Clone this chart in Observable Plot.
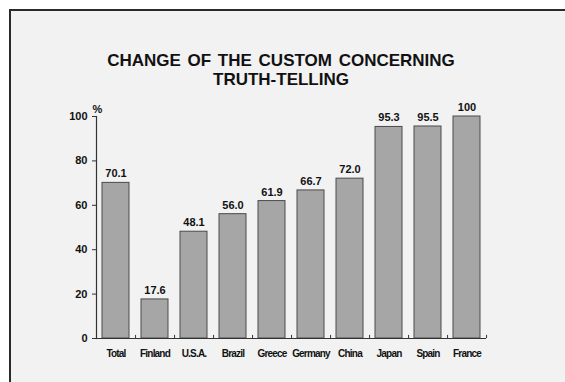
<!DOCTYPE html>
<html>
<head>
<meta charset="utf-8">
<script src="https://cdn.jsdelivr.net/npm/d3@7"></script>
<script src="https://cdn.jsdelivr.net/npm/@observablehq/plot@0.6"></script>
<style>
  html, body { margin: 0; padding: 0; background: #fff; }
  #page { position: relative; width: 565px; height: 382px; overflow: hidden; }
  #sheet {
    position: absolute; left: 9px; top: 9px; right: -4px; bottom: -4px;
    background: #f2f2f2;
    border-left: 2px solid #2a2a2a; border-top: 2px solid #2a2a2a;
  }
  #title {
    position: absolute; left: 0; width: 562px; top: 51px;
    text-align: center; font-family: "Liberation Sans", Arial, sans-serif;
    font-weight: bold; font-size: 17px; line-height: 19px; color: #111;
    word-spacing: 2px;
  }
  #chart { position: absolute; left: 0; top: 0; }
  .country-labels text { letter-spacing: -0.8px; }
</style>
</head>
<body>
<div id="page">
  <div id="sheet"></div>
  <div id="title">CHANGE OF THE CUSTOM CONCERNING<br>TRUTH-TELLING</div>
  <div id="chart"></div>
</div>
<script>
// Share of respondents (%) per country
const countries = ["Total", "Finland", "U.S.A.", "Brazil", "Greece", "Germany", "China", "Japan", "Spain", "France"];
const shares = [70.1, 17.6, 48.1, 56.0, 61.9, 66.7, 72.0, 95.3, 95.5, 100];
const yTicks = [0, 20, 40, 60, 80, 100];

const rows = countries.map((c, i) => ({country: c, share: shares[i]}));
const fmt = v => v === 100 ? "100" : v.toFixed(1);

const W = 565, H = 382;
const mL = 96, mR = 80, mT = 116, mB = 44;
const padIn = 0.31, padOut = 0.125;
const step = (W - mL - mR) / (countries.length - padIn + 2 * padOut);

const chart = Plot.plot({
  width: W,
  height: H,
  marginLeft: mL,
  marginRight: mR,
  marginTop: mT,
  marginBottom: mB,
  style: {background: "transparent", fontFamily: "'Liberation Sans', Arial, sans-serif", color: "#111"},
  x: {type: "band", domain: countries, paddingInner: padIn, paddingOuter: padOut},
  y: {domain: [0, 100]},
  marks: [
    Plot.barY(rows, {x: "country", y: "share", fill: "#a6a6a6", stroke: "#4a4a4a", strokeWidth: 1}),
    // small separator ticks along the baseline
    Plot.ruleX(rows, {x: "country", dx: step / 2, y1: 0, y2: 1.4, stroke: "#333", strokeWidth: 1}),
    Plot.frame({anchor: "left", stroke: "#333", strokeWidth: 1.2}),
    Plot.frame({anchor: "bottom", stroke: "#333", strokeWidth: 1.2}),
    Plot.axisY({ticks: yTicks, tickSize: 4, tickPadding: 5, label: null, fontSize: 11, fontWeight: "bold", stroke: "#333"}),
    Plot.axisX({tickSize: 0, tickPadding: 11, label: null, fontSize: 10, fontWeight: "bold", className: "country-labels"}),
    Plot.text(rows, {x: "country", y: "share", text: d => fmt(d.share), dy: -9,
      fontSize: 11, fontWeight: "bold", fill: "#111"}),
    Plot.text(["%"], {frameAnchor: "top-left", dx: -4, dy: -11, fontSize: 11, fontWeight: "bold", fill: "#111"})
  ]
});

document.getElementById("chart").appendChild(chart);
</script>
</body>
</html>
